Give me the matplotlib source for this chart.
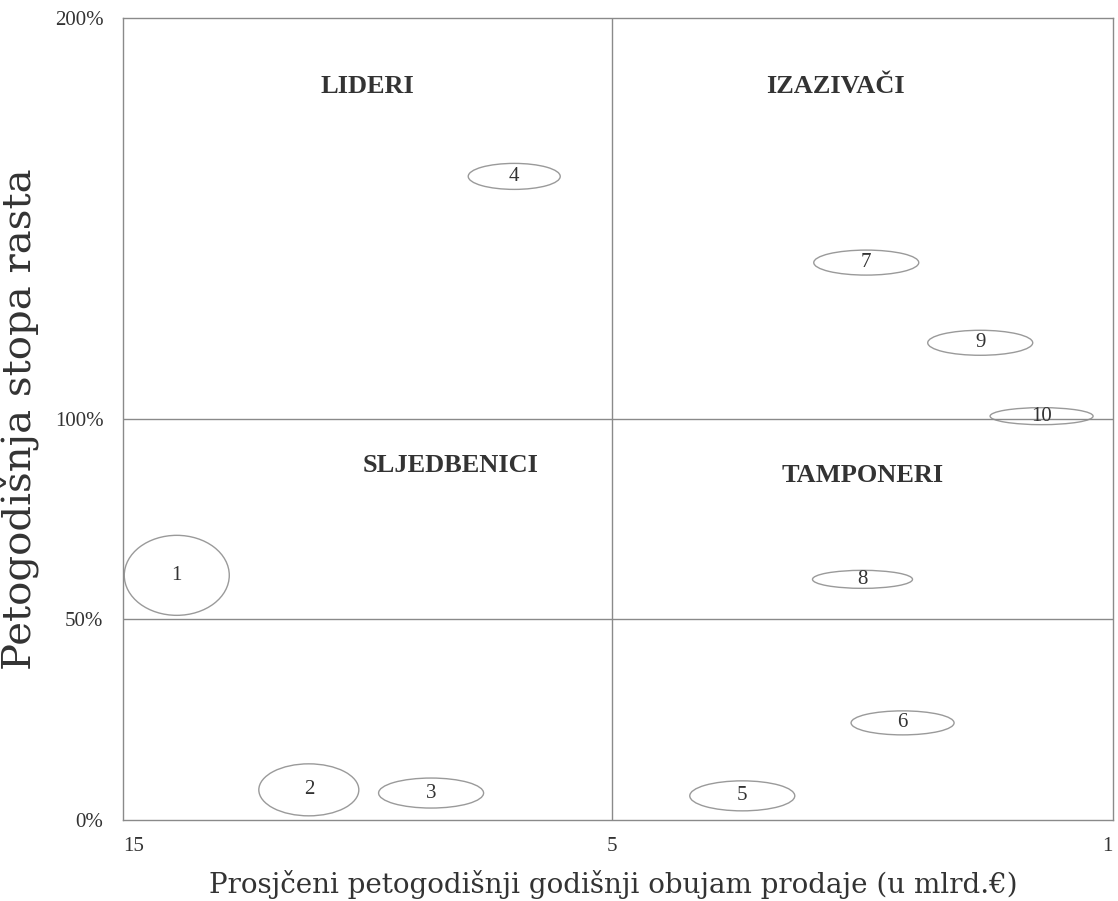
import numpy as np
import matplotlib
matplotlib.use("Agg")
import matplotlib.pyplot as plt
from matplotlib.patches import Ellipse
import matplotlib.transforms as mtransforms

# portfolio units: sales volume (mlrd. EUR) and 5-year growth rate (%)
unit_ids = ["1", "2", "3", "4", "5", "6", "7", "8", "9", "10"]
sales = [13.9, 11.2, 8.7, 7.0, 3.96, 2.68, 2.97, 3.0, 2.06, 1.57]
growth = [61, 7.5, 6.7, 160.5, 6.0, 24.2, 139, 60, 119, 100.7]
# bubble (ellipse) size in pixels, width x height
bubble_w = [105, 100, 105, 92, 105, 103, 105, 100, 105, 103]
bubble_h = [80, 52, 30, 26, 30, 24, 25, 18, 25, 17]

x_ticks = [15, 5, 1]
x_tick_labels = ["15", "5", "1"]
y_ticks = [0, 50, 100, 200]
y_tick_labels = ["0%", "50%", "100%", "200%"]

quadrants = ["LIDERI", "IZAZIVAČI", "SLJEDBENICI", "TAMPONERI"]

line_col = "#8a8a8a"
text_col = "#333333"


# piecewise axis: 15..5 on the left half, 5..1 on the (slightly wider) right half
def fwd(x):
    return np.interp(x, [1, 5, 15], [0, 1.012, 2])


def inv(u):
    return np.interp(u, [0, 1.012, 2], [1, 5, 15])


fig = plt.figure(figsize=(11.18, 9.01), dpi=100, facecolor="white")
ax = fig.add_axes([0.110, 0.090, 0.8855, 0.890])
ax.set_xscale("function", functions=(fwd, inv))
ax.set_xlim(15, 1)
ax.set_ylim(0, 200)

for sp in ax.spines.values():
    sp.set_color(line_col)
    sp.set_linewidth(1.0)

# quadrant dividers
ax.axvline(5, color=line_col, lw=1.0)
ax.axhline(100, color=line_col, lw=1.0)
ax.axhline(50, color=line_col, lw=1.0)

ax.set_xticks(x_ticks)
ax.set_xticklabels(x_tick_labels)
ax.set_yticks(y_ticks)
ax.set_yticklabels(y_tick_labels)
ax.tick_params(length=0, colors=text_col, labelsize=15)
ax.tick_params(axis="x", pad=12)
ax.tick_params(axis="y", pad=14)
for lab in ax.get_xticklabels() + ax.get_yticklabels():
    lab.set_family("Liberation Serif")
xl = ax.get_xticklabels()
xl[0].set_ha("left")
xl[-1].set_ha("right")

# ellipses with numbers
for name, sx, gy, w, h in zip(unit_ids, sales, growth, bubble_w, bubble_h):
    trans = fig.dpi_scale_trans + mtransforms.ScaledTranslation(sx, gy, ax.transData)
    e = Ellipse((0, 0), w / 100.0, h / 100.0, transform=trans,
                facecolor="none", edgecolor="#9a9a9a", lw=1.0, clip_on=False)
    ax.add_patch(e)
    ax.text(sx, gy, name, ha="center", va="center", fontsize=15,
            family="Liberation Serif", color=text_col)

# quadrant titles
qpos = [(10.0, 183), (3.22, 183), (8.3, 88.3), (3.0, 86)]
for q, (qx, qy) in zip(quadrants, qpos):
    ax.text(qx, qy, q, ha="center", va="center", fontsize=19, fontweight="bold",
            family="Liberation Serif", color=text_col)

ax.set_xlabel("Prosjčeni petogodišnji godišnji obujam prodaje (u mlrd.€)",
              family="DejaVu Serif", fontsize=20, color=text_col, labelpad=4)
ax.set_ylabel("Petogodišnja stopa rasta", family="DejaVu Serif", fontsize=29,
              color=text_col, labelpad=2)
ax.yaxis.set_label_coords(-0.085, 0.5)
ax.xaxis.set_label_coords(0.495, -0.062)

fig.savefig("out.png", dpi=100, facecolor="white")
